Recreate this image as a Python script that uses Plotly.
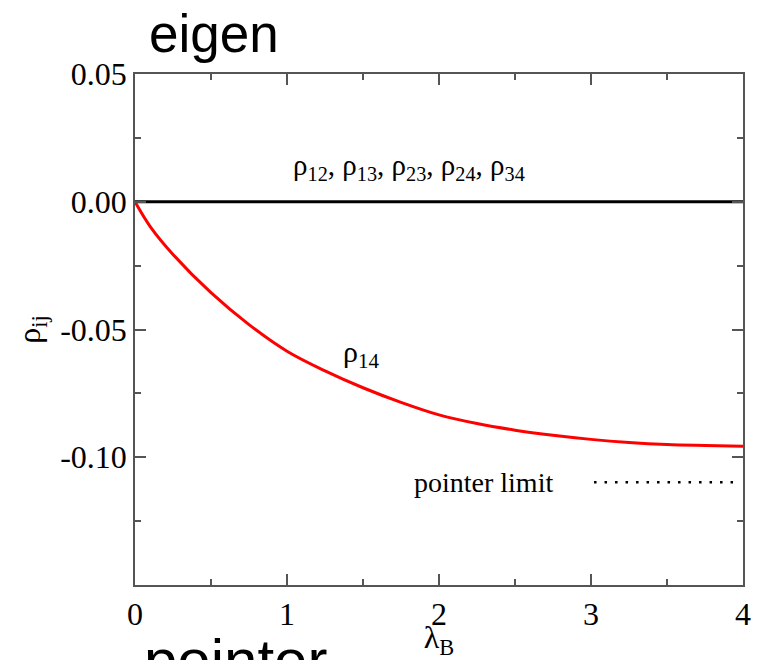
import plotly.graph_objects as go

lam = [0, 0.1, 0.25, 0.5, 0.75, 1.0, 1.25, 1.5, 1.75, 2.0, 2.25, 2.5, 2.75, 3.0, 3.25, 3.5, 3.75, 4.0]
rho14 = [0, -0.0097, -0.0206, -0.0356, -0.0481, -0.0585, -0.0662, -0.0728, -0.0785, -0.0834,
         -0.0868, -0.0894, -0.0914, -0.0930, -0.0942, -0.0950, -0.0954, -0.0957]
rho_zero_x = [0, 4]
rho_zero_y = [0, 0]
limit_x = [3.02, 3.97]
limit_y = [-0.1098, -0.1098]
x_ticks = [0, 1, 2, 3, 4]
y_ticks = [0.05, 0.0, -0.05, -0.10]
y_ticklabels = ["0.05", "0.00", "-0.05", "-0.10"]

serif = "Liberation Serif, Times New Roman, serif"
sans = "Liberation Sans, Arial, sans-serif"
axcol = "#555555"

L, R, T, B = 135, 743, 74, 585
W, H = 757, 660

fig = go.Figure()
fig.add_trace(go.Scatter(x=rho_zero_x, y=rho_zero_y, mode="lines",
                         line=dict(color="black", width=3), showlegend=False))
fig.add_trace(go.Scatter(x=lam, y=rho14, mode="lines", line_shape="spline",
                         line=dict(color="#ff0000", width=3), showlegend=False))
fig.add_trace(go.Scatter(x=limit_x, y=limit_y, mode="lines",
                         line=dict(color="black", width=2.5, dash="2.5px,8px"), showlegend=False))

axis_common = dict(showgrid=False, zeroline=False, showline=True, linecolor=axcol, linewidth=1.5,
                   mirror="ticks", ticks="inside", ticklen=11, tickwidth=1.5, tickcolor=axcol,
                   automargin=False,
                   tickfont=dict(family=serif, size=32, color="black"))

fig.update_xaxes(range=[0, 4], tickvals=x_ticks, ticktext=[str(v) for v in x_ticks],
                 minor=dict(dtick=0.5, ticks="inside", ticklen=6, tickwidth=1.5, tickcolor=axcol),
                 title=dict(text="λ<sub>B</sub>", font=dict(family=serif, size=32, color="black"), standoff=0),
                 **axis_common)
fig.update_yaxes(range=[-0.15, 0.05], tickvals=y_ticks, ticktext=y_ticklabels,
                 minor=dict(dtick=0.025, ticks="inside", ticklen=6, tickwidth=1.5, tickcolor=axcol),
                 title=dict(text="ρ<sub>ij</sub>", font=dict(family=serif, size=32, color="black"), standoff=10),
                 **axis_common)

fig.add_annotation(x=1.80, y=0.0137, xref="x", yref="y",
                   text="ρ<sub>12</sub>, ρ<sub>13</sub>, ρ<sub>23</sub>, ρ<sub>24</sub>, ρ<sub>34</sub>",
                   showarrow=False, font=dict(family=serif, size=29, color="black"))
fig.add_annotation(x=1.49, y=-0.0595, xref="x", yref="y", text="ρ<sub>14</sub>",
                   showarrow=False, font=dict(family=serif, size=30, color="black"))
fig.add_annotation(x=2.765, y=-0.1098, xref="x", yref="y", text="pointer limit", xanchor="right",
                   showarrow=False, font=dict(family=serif, size=28, color="black"))

def px_x(p):
    return (p - L) / (R - L)

def px_y(p):
    return (B - p) / (B - T)

fig.add_annotation(x=px_x(147), y=px_y(33), xref="paper", yref="paper", text="eigen", xanchor="left",
                   yanchor="middle", showarrow=False, font=dict(family=sans, size=53, color="black"))
fig.add_annotation(x=px_x(142), y=px_y(660), xref="paper", yref="paper", text="pointer", xanchor="left",
                   yanchor="middle", showarrow=False, font=dict(family=sans, size=60, color="black"))

fig.update_layout(width=W, height=H, margin=dict(l=L, r=W - R, t=T, b=H - B),
                  plot_bgcolor="white", paper_bgcolor="white")
fig.write_html("out.html")
